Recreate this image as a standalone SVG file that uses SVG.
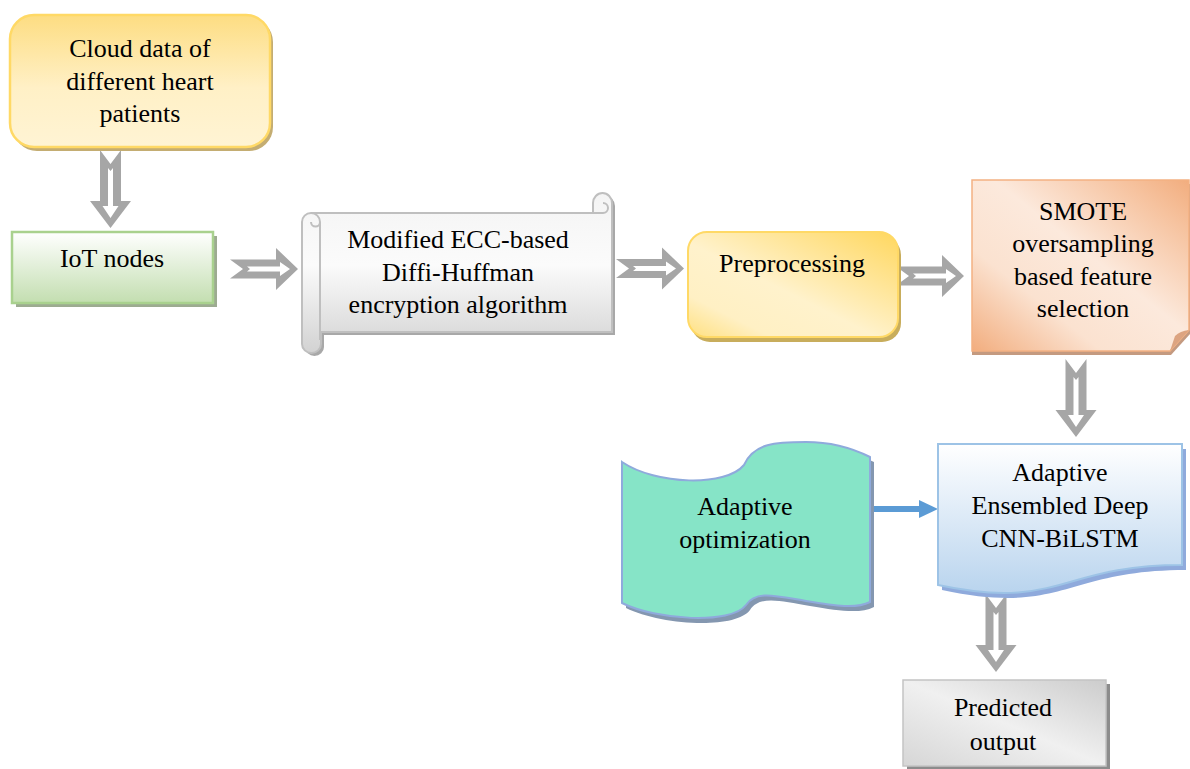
<svg xmlns="http://www.w3.org/2000/svg" width="1190" height="769" viewBox="0 0 1190 769" font-family="'Liberation Serif', 'DejaVu Serif', serif">
<style>
text{font-family:'Liberation Serif','DejaVu Serif',serif;font-size:26px;fill:#000;text-anchor:middle}
.aout{fill:#a6a6a6}
.ain{fill:#ffffff}
</style>
<defs>
<linearGradient id="gCloud" x1="0" y1="0" x2="0" y2="1">
<stop offset="0" stop-color="#fddd82"/><stop offset="0.55" stop-color="#fff0c6"/><stop offset="1" stop-color="#fff4d4"/>
</linearGradient>
<linearGradient id="gIot" x1="0" y1="0" x2="0" y2="1">
<stop offset="0" stop-color="#ffffff"/><stop offset="1" stop-color="#c3deb0"/>
</linearGradient>
<linearGradient id="gScroll" x1="0" y1="0" x2="0" y2="1">
<stop offset="0" stop-color="#f4f4f4"/><stop offset="0.45" stop-color="#fbfbfb"/><stop offset="1" stop-color="#d2d2d2"/>
</linearGradient>
<linearGradient id="gPre" x1="1" y1="0" x2="0" y2="1">
<stop offset="0" stop-color="#ffd75e"/><stop offset="0.55" stop-color="#fff2cc"/><stop offset="0.8" stop-color="#fff0c4"/><stop offset="1" stop-color="#ffe080"/>
</linearGradient>
<linearGradient id="gSmote" x1="0" y1="1" x2="1" y2="0">
<stop offset="0" stop-color="#f2ad7e"/><stop offset="0.3" stop-color="#fbe2d0"/><stop offset="0.55" stop-color="#fce9dc"/><stop offset="0.85" stop-color="#f6c29e"/><stop offset="1" stop-color="#f2ad7e"/>
</linearGradient>
<linearGradient id="gEns" x1="0" y1="0" x2="0" y2="1">
<stop offset="0" stop-color="#ffffff"/><stop offset="1" stop-color="#b9d4ee"/>
</linearGradient>
<linearGradient id="gPred" x1="1" y1="0" x2="0" y2="1">
<stop offset="0" stop-color="#cccccc"/><stop offset="0.5" stop-color="#f0f0f0"/><stop offset="1" stop-color="#d6d6d6"/>
</linearGradient>
<g id="hArrow">
<path class="aout" d="M0,-9.5 H46 V-21 L68,0 L46,21 V9.5 H0 L13,0 Z"/>
<path class="ain" d="M17,-2.5 H50 V-7 L60,0 L50,7 V2.5 H17 L20,0 Z"/>
</g>
<g id="vArrow">
<path class="aout" d="M0,-10.5 H51 V-20.5 L78,0 L51,20.5 V10.5 H0 L14,0 Z"/>
<path class="ain" d="M18,-2.5 H56 V-8 L68,0 L56,8 V2.5 H18 L21,0 Z"/>
</g>
<marker id="blueHead" markerUnits="userSpaceOnUse" markerWidth="20" markerHeight="20" viewBox="0 0 20 20" refX="6" refY="9" orient="auto">
<path d="M0,0 L19,9 L0,18 Z" fill="#5b9bd5"/>
</marker>
</defs>

<g id="connectors">
<use href="#vArrow" transform="translate(110.5,150) rotate(90)"/>
<use href="#hArrow" transform="translate(230,269)"/>
<use href="#hArrow" transform="translate(616,268.5)"/>
<use href="#hArrow" transform="translate(896,276)"/>
<use href="#vArrow" transform="translate(1076,359) rotate(90)"/>
<use href="#vArrow" transform="translate(996,594) rotate(90)"/>
<line x1="870" y1="509" x2="925" y2="509" stroke="#5b9bd5" stroke-width="6" marker-end="url(#blueHead)"/>
</g>

<g id="node-cloud">
<rect x="13" y="18" width="260" height="133" rx="24" fill="#c4ad72"/>
<rect x="10" y="15" width="260" height="132" rx="24" fill="url(#gCloud)" stroke="#ffd966" stroke-width="2.5"/>
<text x="140" y="57" font-family="Liberation Serif, serif">Cloud data of</text>
<text x="140" y="90" font-family="Liberation Serif, serif">different heart</text>
<text x="140" y="122" font-family="Liberation Serif, serif">patients</text>
</g>

<g id="node-iot">
<rect x="16" y="236" width="201" height="71" fill="#9dab91"/>
<rect x="12" y="232" width="201" height="71" fill="url(#gIot)" stroke="#a9d18e" stroke-width="2.5"/>
<text x="112" y="267" font-family="Liberation Serif, serif">IoT nodes</text>
</g>

<g id="node-encryption">
<path d="M305,225 A9,9 0 0 1 314,216 H596 V206 A9.5,10 0 0 1 615,206 V335 H324 V347 A9.5,9 0 0 1 305,347 Z" fill="#a8a8a8"/>
<path d="M302,222 A9,9 0 0 1 311,213 H593 V203 A9.5,10 0 0 1 612,203 V332 H321 V344 A9.5,9 0 0 1 302,344 Z" fill="url(#gScroll)" stroke="#bfbfbf" stroke-width="2"/>
<path d="M311,213 A9,9 0 0 1 320,222 A4.5,4.5 0 0 1 311,222 M320,222 V340 M593,213 H603 A5,5 0 0 0 603,203" fill="none" stroke="#bfbfbf" stroke-width="2"/>
<text x="458" y="248" font-family="Liberation Serif, serif">Modified ECC-based</text>
<text x="458" y="281" font-family="Liberation Serif, serif">Diffi-Huffman</text>
<text x="458" y="313" font-family="Liberation Serif, serif">encryption algorithm</text>
</g>

<g id="node-preprocessing">
<rect x="691" y="236" width="210" height="106" rx="19" fill="#c8ad5c"/>
<rect x="688" y="232" width="210" height="105" rx="19" fill="url(#gPre)" stroke="#ffd966" stroke-width="2"/>
<text x="792" y="272" font-family="Liberation Serif, serif">Preprocessing</text>
</g>

<g id="node-smote">
<path d="M972,184 H1190 V334 L1171,355 H972 Z" fill="#c49a80"/>
<path d="M972,180 H1189 V330 L1170,351 H972 Z" fill="url(#gSmote)" stroke="#f4b183" stroke-width="1.5"/>
<path d="M1170,351 L1175,336 Q1180,331 1189,330 Z" fill="#dca481"/>
<text x="1083" y="220" font-family="Liberation Serif, serif">SMOTE</text>
<text x="1083" y="252" font-family="Liberation Serif, serif">oversampling</text>
<text x="1083" y="285" font-family="Liberation Serif, serif">based feature</text>
<text x="1083" y="317" font-family="Liberation Serif, serif">selection</text>
</g>

<g id="node-optimization">
<path d="M626,467 C660,490 730,492 748,470 C758,448 780,447 810,447 C840,447 860,455 874,462 V607 C860,614 840,611 810,606 C780,601 760,595 750,610 C735,630 660,625 626,608 Z" fill="#8497b0"/>
<path d="M622,462 C656,485 726,487 744,465 C754,443 776,442 806,442 C836,442 856,450 870,457 V602 C856,609 836,606 806,601 C776,596 756,590 746,605 C731,625 656,620 622,603 Z" fill="#86e4c7" stroke="#8faadc" stroke-width="2"/>
<text x="745" y="515" font-family="Liberation Serif, serif">Adaptive</text>
<text x="745" y="548" font-family="Liberation Serif, serif">optimization</text>
</g>

<g id="node-ensembled">
<path d="M942,449 H1186 V570 C1064,570 1064,616 942,590 Z" fill="#8faadc"/>
<path d="M938,444 H1182 V565 C1060,565 1060,611 938,585 Z" fill="url(#gEns)" stroke="#9dc3e6" stroke-width="2"/>
<text x="1060" y="481" font-family="Liberation Serif, serif">Adaptive</text>
<text x="1060" y="514" font-family="Liberation Serif, serif">Ensembled Deep</text>
<text x="1060" y="547" font-family="Liberation Serif, serif">CNN-BiLSTM</text>
</g>

<g id="node-predicted">
<rect x="907" y="684" width="203" height="86" fill="#8c8c8c"/>
<rect x="903" y="680" width="203" height="86" fill="url(#gPred)" stroke="#c4c4c4" stroke-width="1.5"/>
<text x="1003" y="716" font-family="Liberation Serif, serif">Predicted</text>
<text x="1003" y="750" font-family="Liberation Serif, serif">output</text>
</g>
</svg>
